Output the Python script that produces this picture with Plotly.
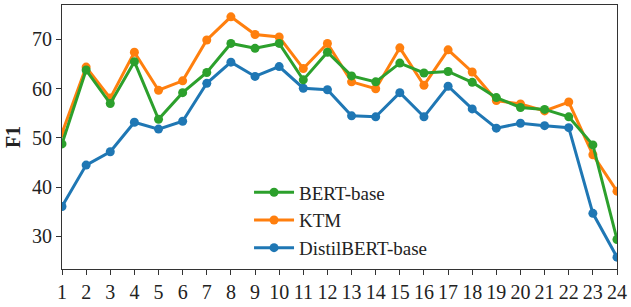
import plotly.graph_objects as go

layers = list(range(1, 25))
bert = [48.8, 63.8, 57.0, 65.5, 53.8, 59.2, 63.3, 69.2, 68.2, 69.2, 61.8, 67.4,
        62.6, 61.4, 65.2, 63.2, 63.5, 61.3, 58.2, 56.2, 55.8, 54.3, 48.6, 29.4]
ktm = [51.0, 64.4, 58.1, 67.4, 59.7, 61.6, 69.9, 74.6, 71.0, 70.5, 64.1, 69.2,
       61.4, 60.0, 68.3, 60.7, 67.9, 63.4, 57.6, 56.9, 55.5, 57.3, 46.6, 39.2]
distil = [36.1, 44.5, 47.2, 53.2, 51.8, 53.4, 61.1, 65.4, 62.5, 64.5, 60.1, 59.8,
          54.5, 54.3, 59.2, 54.3, 60.5, 55.9, 52.0, 53.0, 52.5, 52.1, 34.7, 25.8]

series = [("DistilBERT-base", distil, "#1f77b4"),
          ("KTM", ktm, "#ff7f0e"),
          ("BERT-base", bert, "#2ca02c")]

fig = go.Figure()
for name, vals, color in series:
    fig.add_trace(go.Scatter(x=layers, y=vals, name=name, mode="lines+markers",
                             line=dict(color=color, width=3),
                             marker=dict(color=color, size=9)))

font = "Liberation Serif"
fig.update_layout(
    width=631, height=307,
    margin=dict(l=62, r=14, t=4, b=33),
    paper_bgcolor="white", plot_bgcolor="white",
    font=dict(family=font, size=20, color="#222"),
    showlegend=True,
    legend=dict(x=0.337, y=0.362, xanchor="left", yanchor="top",
                traceorder="reversed", bgcolor="rgba(0,0,0,0)",
                font=dict(family=font, size=19, color="#222"),
                itemwidth=40, tracegroupgap=0),
    xaxis=dict(range=[1, 24], tickmode="array", tickvals=layers,
               ticktext=[str(v) for v in layers],
               showgrid=False, zeroline=False, showline=True, linecolor="#333",
               linewidth=1, mirror=True, ticks="outside", ticklen=5,
               tickcolor="#333"),
    yaxis=dict(range=[23.4, 77.0], tickvals=[30, 40, 50, 60, 70],
               showgrid=False, zeroline=False, showline=True, linecolor="#333",
               linewidth=1, mirror=True, ticks="outside", ticklen=5,
               tickcolor="#333",
               title=dict(text="<b>F1</b>", standoff=6,
                          font=dict(family=font, size=20))),
)
fig.write_html("out.html", config={"displayModeBar": False},
               post_script="document.body.style.margin='0';")
